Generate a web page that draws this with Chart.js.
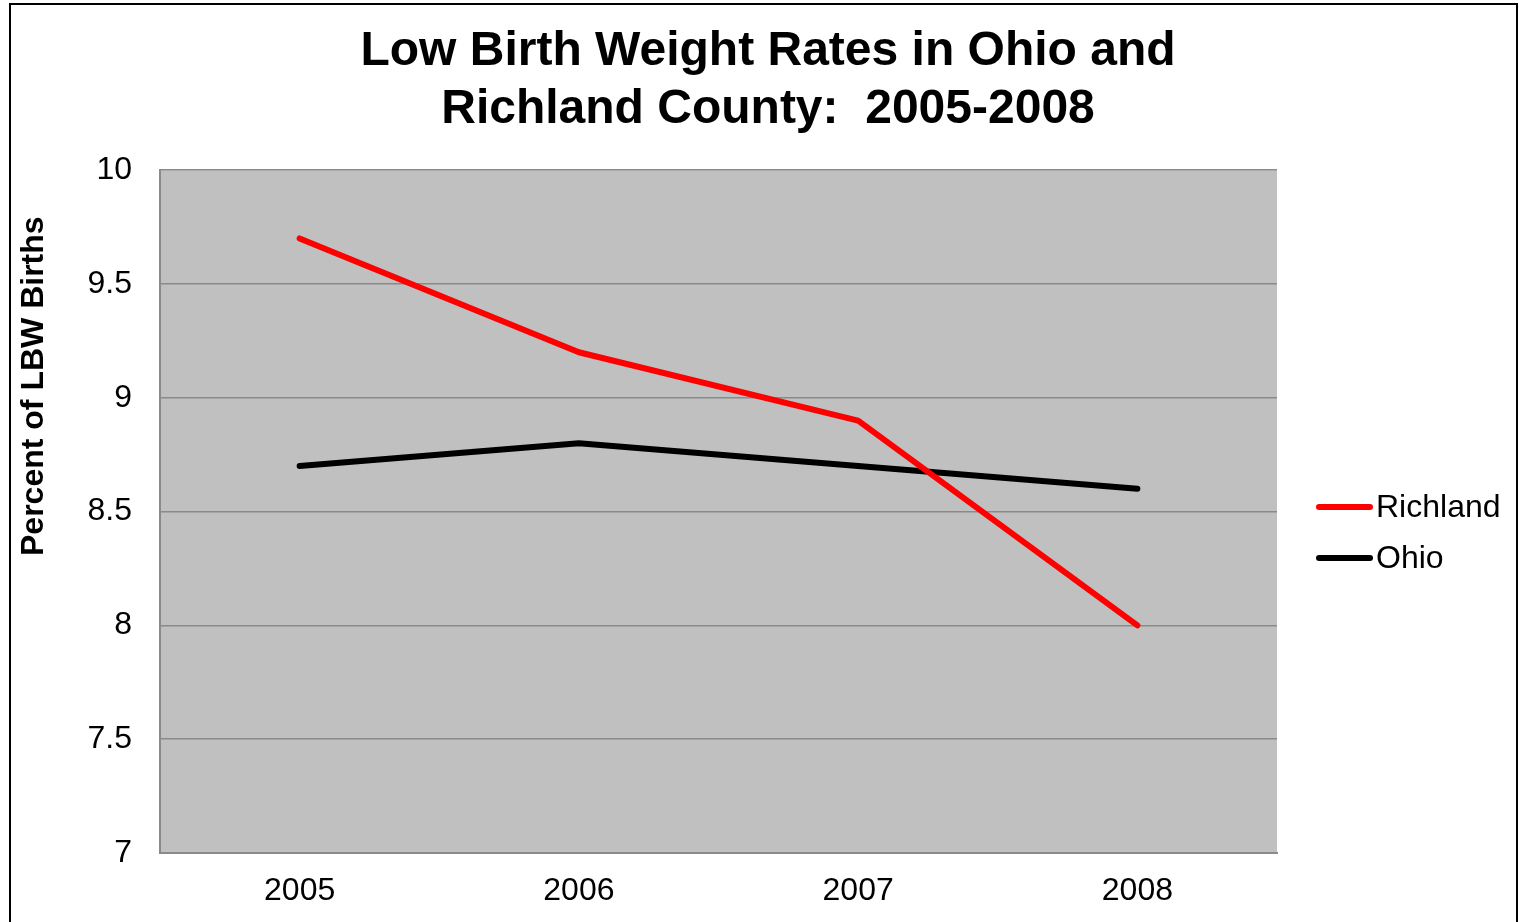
<!DOCTYPE html>
<html>
<head>
<meta charset="utf-8">
<title>Low Birth Weight Rates</title>
<script src="https://cdn.jsdelivr.net/npm/chart.js@4.4.0/dist/chart.umd.min.js"></script>
<style>
html, body { margin: 0; padding: 0; background: #fff; overflow: hidden; }
#lbwChart { position: absolute; left: 0; top: 0; }
#frame { position: absolute; left: 9px; top: 3px; width: 1509px; height: 960px; border: 2px solid #000; box-sizing: border-box; }
</style>
</head>
<body>
<canvas id="lbwChart" width="1519" height="922"></canvas>
<div id="frame"></div>
<script>
var years = ['2005', '2006', '2007', '2008'];
var richland = [9.7, 9.2, 8.9, 8.0];
var ohio = [8.7, 8.8, 8.7, 8.6];
var yMin = 7, yMax = 10, yStep = 0.5;
var yTitle = 'Percent of LBW Births';

var fontFam = '"Liberation Sans", Arial, sans-serif';

// grey plot area behind gridlines
var plotBackground = {
	id: 'plotBackground',
	beforeDraw: function(chart) {
		var a = chart.chartArea, ctx = chart.ctx;
		ctx.save();
		ctx.fillStyle = '#c0c0c0';
		ctx.fillRect(a.left, a.top, a.right - a.left, a.bottom - a.top);
		ctx.restore();
	}
};

// legend on the right + y axis title (excel puts it above the middle)
var sideLegend = {
	id: 'sideLegend',
	afterDraw: function(chart) {
		var a = chart.chartArea, ctx = chart.ctx;
		var x = a.right + 39;
		var y = (a.top + a.bottom) / 2 - 4.5;
		ctx.save();
		ctx.font = '32px ' + fontFam;
		ctx.textBaseline = 'middle';
		ctx.textAlign = 'left';
		chart.data.datasets.forEach(function(ds, i) {
			var yy = y + i * 51;
			ctx.strokeStyle = ds.borderColor;
			ctx.lineWidth = 6;
			ctx.lineCap = 'round';
			ctx.beginPath();
			ctx.moveTo(x + 3, yy);
			ctx.lineTo(x + 54, yy);
			ctx.stroke();
			ctx.fillStyle = '#000';
			ctx.fillText(ds.label, x + 60, yy + 1);
		});

		ctx.translate(34, a.top + 216);
		ctx.rotate(-Math.PI / 2);
		ctx.textAlign = 'center';
		ctx.font = 'bold 32px ' + fontFam;
		ctx.fillText(yTitle, 0, 0);
		ctx.restore();
	}
};

var ctx = document.getElementById('lbwChart');
var chart = new Chart(ctx, {
	type: 'line',
	data: {
		labels: years,
		datasets: [{
			label: 'Richland',
			data: richland,
			borderColor: '#ff0000',
			backgroundColor: '#ff0000',
			borderWidth: 6,
			borderCapStyle: 'round',
			borderJoinStyle: 'round',
			pointRadius: 0,
			tension: 0
		}, {
			label: 'Ohio',
			data: ohio,
			borderColor: '#000000',
			backgroundColor: '#000000',
			borderWidth: 6,
			borderCapStyle: 'round',
			borderJoinStyle: 'round',
			pointRadius: 0,
			tension: 0
		}]
	},
	options: {
		responsive: false,
		animation: false,
		events: [],
		layout: {
			padding: { left: 17, right: 0, top: 0, bottom: 13 }
		},
		plugins: {
			legend: { display: false },
			tooltip: { enabled: false },
			title: {
				display: true,
				text: ['Low Birth Weight Rates in Ohio and', 'Richland County:  2005-2008'],
				color: '#000',
				font: { family: fontFam, size: 48, weight: 'bold', lineHeight: 1.2 },
				padding: { top: 23, bottom: 32 }
			}
		},
		scales: {
			x: {
				offset: true,
				afterFit: function(scale) { scale.height = 56; },
				grid: { display: false, drawTicks: false },
				border: { display: true, color: '#8a8a8a', width: 2 },
				ticks: {
					color: '#000',
					padding: 19,
					font: { family: fontFam, size: 32 }
				}
			},
			y: {
				min: yMin,
				max: yMax,
				afterFit: function(scale) { scale.width = 143; },
				grid: { color: '#8a8a8a', lineWidth: 1.5, drawTicks: false },
				border: { display: true, color: '#8a8a8a', width: 2 },
				ticks: {
					stepSize: yStep,
					color: '#000',
					padding: 28,
					font: { family: fontFam, size: 32 },
					callback: function(v) { return String(v); }
				}
			},
			// empty axis on the right, only keeps room for the legend
			spacer: {
				type: 'linear',
				position: 'right',
				afterFit: function(scale) { scale.width = 242; },
				grid: { display: false, drawTicks: false },
				border: { display: false },
				ticks: { display: false }
			}
		}
	},
	plugins: [plotBackground, sideLegend]
});
</script>
</body>
</html>
